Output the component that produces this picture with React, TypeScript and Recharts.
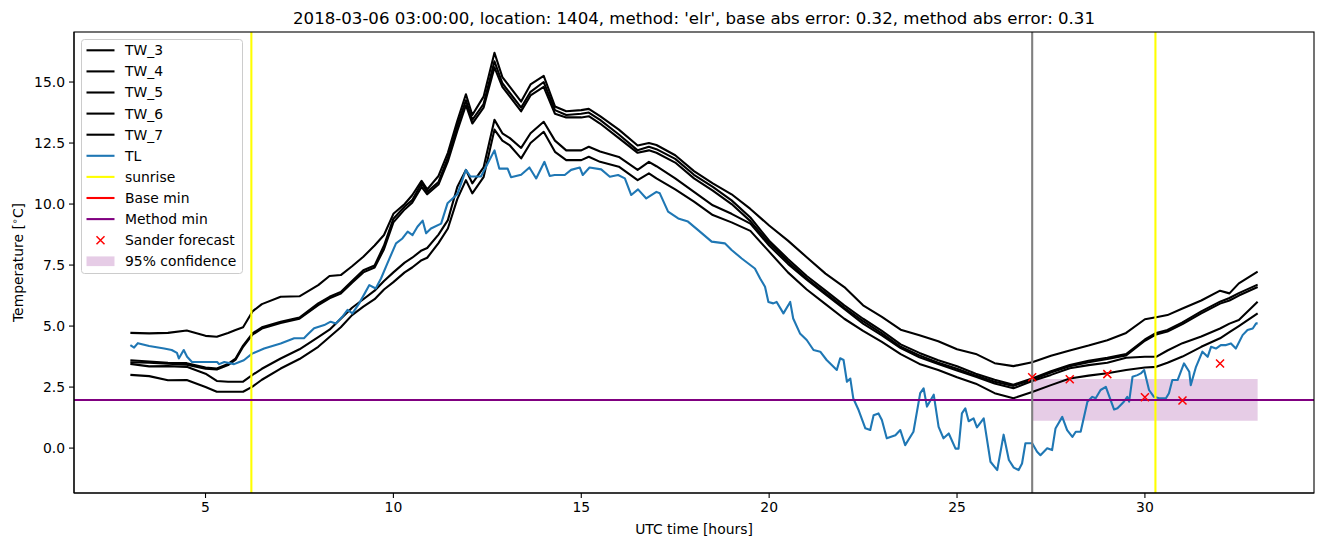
import React from 'react';
import { ComposedChart, Line, XAxis, YAxis, ReferenceLine, ReferenceArea } from 'recharts';

// ---------- data ----------
const twHours = [3, 3.5, 4, 4.5, 5, 5.3, 5.6, 5.8, 6.0, 6.25, 6.5, 7, 7.5, 8, 8.3, 8.6, 8.9, 9.2, 9.5, 9.75, 10, 10.3, 10.5, 10.75, 10.9, 11.2, 11.45, 11.7, 11.93, 12.1, 12.4, 12.69, 12.9, 13.1, 13.4, 13.65, 14.0, 14.3, 14.6, 15.0, 15.2, 15.5, 16.0, 16.5, 16.8, 17.0, 17.5, 18.0, 18.5, 19.0, 19.5, 20, 20.5, 21, 21.5, 22, 22.5, 23, 23.5, 24, 24.5, 25, 25.5, 26, 26.5, 27, 27.5, 28, 28.5, 29, 29.5, 30, 30.3, 30.6, 31, 31.5, 32, 32.25, 32.5, 33];

const tw3 = [4.72, 4.7, 4.72, 4.82, 4.6, 4.56, 4.72, 4.84, 4.95, 5.6, 5.9, 6.2, 6.22, 6.68, 7.05, 7.09, 7.45, 7.84, 8.3, 8.73, 9.6, 10.0, 10.36, 10.95, 10.6, 11.15, 12.1, 13.4, 14.5, 13.65, 14.4, 16.2, 15.2, 14.8, 14.2, 14.9, 15.25, 14.0, 13.8, 13.85, 13.9, 13.6, 13.05, 12.4, 12.5, 12.42, 12.0, 11.35, 10.85, 10.4, 9.8, 9.12, 8.5, 7.82, 7.15, 6.6, 5.85, 5.38, 4.85, 4.62, 4.38, 4.05, 3.86, 3.48, 3.36, 3.52, 3.78, 4.0, 4.2, 4.42, 4.72, 5.28, 5.36, 5.45, 5.72, 6.05, 6.45, 6.34, 6.75, 7.23];

const tw4 = [3.6, 3.55, 3.5, 3.48, 3.3, 3.26, 3.45, 3.67, 4.2, 4.7, 4.95, 5.18, 5.35, 5.93, 6.2, 6.4, 6.85, 7.29, 7.48, 8.3, 9.4, 9.9, 10.16, 10.85, 10.5, 10.9, 11.9, 13.2, 14.25, 13.45, 14.1, 15.85, 14.95, 14.55, 13.95, 14.6, 15.0, 13.85, 13.65, 13.7, 13.75, 13.45, 12.85, 12.2, 12.35, 12.25, 11.85, 11.2, 10.7, 10.15, 9.45, 8.5, 7.75, 7.05, 6.45, 5.85, 5.3, 4.8, 4.25, 3.9, 3.6, 3.35, 3.05, 2.8, 2.6, 2.85, 3.15, 3.4, 3.58, 3.7, 3.85, 4.45, 4.72, 4.84, 5.15, 5.6, 6.0, 6.15, 6.35, 6.7];

const tw5 = [3.52, 3.5, 3.46, 3.42, 3.25, 3.22, 3.4, 3.62, 4.15, 4.65, 4.9, 5.13, 5.3, 5.86, 6.14, 6.33, 6.78, 7.2, 7.4, 8.15, 9.25, 9.78, 10.05, 10.7, 10.4, 10.8, 11.75, 13.0, 14.05, 13.3, 13.95, 15.6, 14.8, 14.4, 13.8, 14.45, 14.8, 13.7, 13.55, 13.55, 13.6, 13.3, 12.7, 12.1, 12.2, 12.1, 11.7, 11.05, 10.55, 10.0, 9.3, 8.4, 7.65, 6.95, 6.35, 5.75, 5.2, 4.7, 4.15, 3.8, 3.5, 3.25, 2.97, 2.72, 2.55, 2.8, 3.1, 3.35, 3.52, 3.65, 3.8, 4.4, 4.66, 4.78, 5.08, 5.52, 5.92, 6.05, 6.25, 6.6];

const tw6 = [3.45, 3.35, 3.36, 3.33, 3.05, 2.75, 2.72, 2.72, 2.72, 3.0, 3.25, 3.67, 4.05, 4.55, 4.85, 5.3, 5.75, 6.1, 6.45, 6.85, 7.2, 7.6, 7.8, 8.1, 8.2, 8.75, 9.34, 10.7, 11.4, 10.85, 11.5, 13.45, 12.9, 12.7, 12.3, 12.9, 13.37, 12.6, 12.2, 12.2, 12.35, 12.15, 11.93, 11.4, 11.73, 11.55, 11.05, 10.5, 9.95, 9.6, 9.2, 8.3, 7.55, 6.9, 6.3, 5.7, 5.1, 4.62, 4.1, 3.72, 3.45, 3.18, 2.92, 2.65, 2.45, 2.75, 3.0, 3.27, 3.4, 3.5, 3.7, 3.74, 3.74, 4.0, 4.3, 4.57, 4.9, 5.1, 5.25, 6.0];

const tw7 = [3.0, 2.95, 2.78, 2.79, 2.5, 2.31, 2.31, 2.31, 2.31, 2.52, 2.8, 3.26, 3.65, 4.15, 4.55, 4.95, 5.45, 5.8, 6.1, 6.5, 6.8, 7.2, 7.4, 7.7, 7.8, 8.4, 9.0, 10.2, 10.98, 10.44, 11.1, 13.05, 12.6, 12.4, 11.87, 12.5, 12.96, 12.14, 11.8, 11.8, 11.94, 11.73, 11.53, 10.98, 11.26, 11.05, 10.6, 10.1, 9.55, 9.25, 8.9, 8.05, 7.2, 6.5, 5.9, 5.3, 4.8, 4.35, 3.85, 3.45, 3.2, 2.9, 2.64, 2.25, 2.04, 2.3, 2.58, 2.85, 2.97, 3.07, 3.2, 3.3, 3.33, 3.5, 3.75, 4.15, 4.5, 4.75, 5.0, 5.52];

const tlHours = [3.0, 3.1, 3.2, 3.5, 3.9, 4.1, 4.24, 4.29, 4.42, 4.51, 4.64, 5.31, 5.36, 5.5, 5.76, 5.9, 6.02, 6.24, 6.56, 7.0, 7.36, 7.62, 7.71, 7.89, 8.16, 8.33, 8.47, 8.64, 8.78, 8.91, 9.09, 9.36, 9.53, 9.67, 9.84, 10.07, 10.24, 10.38, 10.51, 10.64, 10.78, 10.87, 11.0, 11.27, 11.44, 11.7, 11.93, 12.05, 12.33, 12.69, 12.82, 13.04, 13.13, 13.4, 13.62, 13.8, 14.02, 14.16, 14.29, 14.56, 14.73, 14.96, 15.04, 15.22, 15.53, 15.76, 15.98, 16.16, 16.33, 16.51, 16.73, 17.0, 17.09, 17.31, 17.58, 17.84, 18.11, 18.47, 18.82, 19.0, 19.27, 19.62, 19.76, 19.89, 19.98, 20.11, 20.2, 20.38, 20.56, 20.64, 20.82, 21.0, 21.18, 21.36, 21.53, 21.8, 21.89, 21.98, 22.07, 22.16, 22.24, 22.38, 22.56, 22.69, 22.78, 22.91, 23.0, 23.13, 23.36, 23.49, 23.62, 23.84, 24.02, 24.11, 24.2, 24.38, 24.51, 24.64, 24.78, 24.96, 25.04, 25.13, 25.22, 25.31, 25.44, 25.53, 25.71, 25.89, 26.07, 26.24, 26.38, 26.51, 26.64, 26.73, 26.82, 27.0, 27.13, 27.22, 27.4, 27.53, 27.62, 27.8, 27.93, 28.07, 28.16, 28.29, 28.47, 28.6, 28.69, 28.82, 28.96, 29.18, 29.27, 29.44, 29.53, 29.58, 29.67, 29.8, 29.89, 29.98, 30.11, 30.24, 30.38, 30.56, 30.64, 30.73, 30.87, 31.04, 31.18, 31.22, 31.36, 31.53, 31.67, 31.76, 31.89, 32.02, 32.16, 32.29, 32.42, 32.6, 32.73, 32.87, 32.96, 33.0];

const tlValues = [4.22, 4.12, 4.3, 4.18, 4.08, 4.02, 3.9, 3.67, 4.02, 3.74, 3.53, 3.53, 3.44, 3.53, 3.44, 3.53, 3.6, 3.87, 4.08, 4.29, 4.5, 4.5, 4.64, 4.91, 5.04, 5.18, 5.11, 5.38, 5.66, 5.52, 5.93, 6.68, 6.54, 6.95, 7.57, 8.39, 8.59, 8.87, 8.73, 9.07, 9.32, 8.8, 9.0, 9.2, 10.03, 10.4, 11.4, 11.13, 11.13, 12.2, 11.45, 11.45, 11.1, 11.2, 11.5, 11.05, 11.73, 11.15, 11.19, 11.19, 11.4, 11.5, 11.19, 11.5, 11.42, 11.12, 11.19, 11.05, 10.37, 10.6, 10.23, 10.5, 10.44, 9.69, 9.41, 9.28, 8.93, 8.46, 8.39, 8.12, 7.77, 7.36, 6.95, 6.61, 5.99, 5.93, 5.99, 5.52, 5.99, 5.31, 4.7, 4.43, 4.02, 3.95, 3.61, 3.2, 3.68, 3.61, 2.72, 2.85, 2.03, 1.56, 0.81, 0.74, 1.35, 1.42, 1.15, 0.4, 0.53, 0.74, 0.12, 0.67, 2.25, 2.45, 1.7, 2.19, 0.87, 0.4, 0.6, -0.02, -0.02, 1.42, 1.63, 1.1, 1.22, 0.85, 1.22, -0.56, -0.9, 0.55, -0.49, -0.8, -0.9, -0.63, 0.2, 0.2, -0.15, -0.29, -0.01, -0.08, 0.8, 1.28, 0.74, 0.46, 0.67, 0.67, 1.9, 2.1, 2.04, 2.38, 2.51, 1.58, 1.63, 1.9, 2.1, 1.9, 2.92, 2.99, 3.06, 3.2, 2.38, 2.1, 2.04, 2.04, 2.25, 2.79, 2.79, 3.47, 3.13, 2.58, 3.33, 3.95, 3.74, 4.15, 4.08, 4.22, 4.22, 4.29, 4.08, 4.63, 4.84, 4.9, 5.11, 5.11];

const sunriseHours = [6.22, 30.28];
const forecastHour = 27;
const baseMin = 1.97;
const methodMin = 1.97;
const sanderHours = [27, 28, 29, 30, 31, 32];
const sanderValues = [2.9, 2.82, 3.03, 2.08, 1.95, 3.47];
const confHours = [27, 33];
const confRange = [1.12, 2.83];

const xTicks = [5, 10, 15, 20, 25, 30];
const yTicks = [0, 2.5, 5, 7.5, 10, 12.5, 15];
const xDomain = [1.5, 34.5];
const yDomain = [-1.84, 17.05];

const titleText = "2018-03-06 03:00:00, location: 1404, method: 'elr', base abs error: 0.32, method abs error: 0.31";
const xLabel = 'UTC time [hours]';

const twSeries = [
  { name: 'TW_3', values: tw3 },
  { name: 'TW_4', values: tw4 },
  { name: 'TW_5', values: tw5 },
  { name: 'TW_6', values: tw6 },
  { name: 'TW_7', values: tw7 },
];

const legendItems = [
  { label: 'TW_3', kind: 'line', color: '#000000' },
  { label: 'TW_4', kind: 'line', color: '#000000' },
  { label: 'TW_5', kind: 'line', color: '#000000' },
  { label: 'TW_6', kind: 'line', color: '#000000' },
  { label: 'TW_7', kind: 'line', color: '#000000' },
  { label: 'TL', kind: 'line', color: '#1f77b4' },
  { label: 'sunrise', kind: 'line', color: '#ffff00' },
  { label: 'Base min', kind: 'line', color: '#ff0000' },
  { label: 'Method min', kind: 'line', color: '#800080' },
  { label: 'Sander forecast', kind: 'x', color: '#ff0000' },
  { label: '95% confidence', kind: 'patch', color: '#800080' },
];

const FONT = 'DejaVu Sans, Verdana, sans-serif';
const W = 1324;
const H = 547;
const PLOT = { left: 74, right: 1314, top: 32, bottom: 493 };

const toPts = (xs: number[], ys: number[]) => xs.map((h, i) => ({ h, v: ys[i] }));

const XMark = (props: any) => {
  const { cx, cy, index } = props;
  if (cx == null || cy == null) return <g key={`xm-${index}`} />;
  const r = 4;
  return (
    <path
      key={`xm-${index}`}
      d={`M${cx - r},${cy - r}L${cx + r},${cy + r}M${cx - r},${cy + r}L${cx + r},${cy - r}`}
      stroke="#ff0000"
      strokeWidth={1.5}
      fill="none"
    />
  );
};

const Overlay = () => {
  const rowY0 = 50.3;
  const rowDy = 21.1;
  return (
    <svg width={W} height={H} style={{ position: 'absolute', left: 0, top: 0, pointerEvents: 'none' }}>
      <rect
        x={PLOT.left}
        y={PLOT.top}
        width={PLOT.right - PLOT.left}
        height={PLOT.bottom - PLOT.top}
        fill="none"
        stroke="#000"
        strokeWidth={1.1}
      />
      <text x={(PLOT.left + PLOT.right) / 2} y={24} textAnchor="middle" fontFamily={FONT} fontSize={16.6} fill="#000">
        {titleText}
      </text>
      <text x={(PLOT.left + PLOT.right) / 2} y={534} textAnchor="middle" fontFamily={FONT} fontSize={13.9} fill="#000">
        {xLabel}
      </text>
      <text
        x={0}
        y={0}
        transform={`translate(23, ${(PLOT.top + PLOT.bottom) / 2}) rotate(-90)`}
        textAnchor="middle"
        fontFamily={FONT}
        fontSize={13.9}
        fill="#000"
      >
        Temperature [
        <tspan fontSize={9.7} dy={-5}>∘</tspan>
        <tspan dy={5}>C]</tspan>
      </text>
      <rect x={81.5} y={39.5} width={161} height={234} rx={3} ry={3} fill="#ffffff" fillOpacity={0.8} stroke="#cccccc" strokeWidth={1} />
      {legendItems.map((it, i) => {
        const y = rowY0 + rowDy * i;
        let glyph: any = null;
        if (it.kind === 'line') {
          glyph = <line x1={86.5} x2={114.5} y1={y} y2={y} stroke={it.color} strokeWidth={2.1} />;
        } else if (it.kind === 'x') {
          glyph = <path d={`M${100.5 - 4},${y - 4}L${100.5 + 4},${y + 4}M${100.5 - 4},${y + 4}L${100.5 + 4},${y - 4}`} stroke={it.color} strokeWidth={1.5} />;
        } else {
          glyph = <rect x={86.5} y={y - 4.9} width={28} height={9.7} fill={it.color} fillOpacity={0.2} />;
        }
        return (
          <g key={it.label}>
            {glyph}
            <text x={125} y={y + 4.9} fontFamily={FONT} fontSize={13.9} fill="#000">
              {it.label}
            </text>
          </g>
        );
      })}
    </svg>
  );
};

export default function App() {
  const tickStyle = { fill: '#000', fontSize: 13.9, fontFamily: FONT };
  return (
    <div style={{ position: 'absolute', left: 0, top: 0, width: W, height: H, background: '#fff' }}>
      <ComposedChart
        width={W}
        height={H}
        margin={{ top: PLOT.top, right: W - PLOT.right, bottom: 24, left: PLOT.left - 60 }}
      >
        <XAxis
          dataKey="h"
          type="number"
          domain={xDomain}
          ticks={xTicks}
          allowDataOverflow
          height={H - PLOT.bottom - 24}
          tickSize={5}
          tickMargin={4}
          tick={tickStyle}
          axisLine={{ stroke: '#000', strokeWidth: 1.1 }}
          tickLine={{ stroke: '#000', strokeWidth: 1.1 }}
        />
        <YAxis
          type="number"
          domain={yDomain}
          ticks={yTicks}
          allowDataOverflow
          width={60}
          tickSize={5}
          tickMargin={4}
          tickFormatter={(v: number) => v.toFixed(1)}
          tick={tickStyle}
          axisLine={{ stroke: '#000', strokeWidth: 1.1 }}
          tickLine={{ stroke: '#000', strokeWidth: 1.1 }}
        />
        <ReferenceArea
          x1={confHours[0]}
          x2={confHours[1]}
          y1={confRange[0]}
          y2={confRange[1]}
          fill="#800080"
          fillOpacity={0.2}
          stroke="none"
        />
        {twSeries.map((s) => (
          <Line
            key={s.name}
            data={toPts(twHours, s.values)}
            dataKey="v"
            name={s.name}
            stroke="#000000"
            strokeWidth={2.1}
            dot={false}
            activeDot={false}
            isAnimationActive={false}
            strokeLinejoin="round"
          />
        ))}
        <Line
          data={toPts(tlHours, tlValues)}
          dataKey="v"
          name="TL"
          stroke="#1f77b4"
          strokeWidth={2.1}
          dot={false}
          activeDot={false}
          isAnimationActive={false}
          strokeLinejoin="round"
        />
        {sunriseHours.map((h) => (
          <ReferenceLine key={`sr-${h}`} x={h} stroke="#ffff00" strokeWidth={2.1} />
        ))}
        <ReferenceLine y={baseMin} stroke="#ff0000" strokeWidth={2.1} />
        <ReferenceLine y={methodMin} stroke="#800080" strokeWidth={2.1} />
        <ReferenceLine x={forecastHour} stroke="#808080" strokeWidth={2.1} />
        <Line
          data={toPts(sanderHours, sanderValues)}
          dataKey="v"
          name="Sander forecast"
          stroke="none"
          dot={XMark}
          activeDot={false}
          isAnimationActive={false}
        />
      </ComposedChart>
      <Overlay />
    </div>
  );
}
